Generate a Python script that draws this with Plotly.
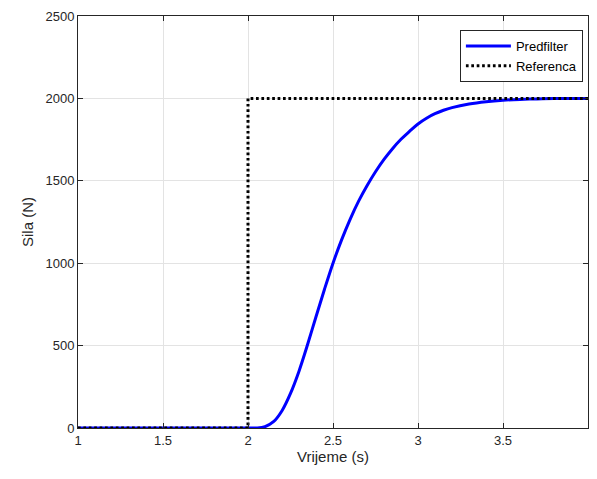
import plotly.graph_objects as go

# Predfilter response
t_pred = [1.0, 2.0, 2.05, 2.1, 2.15, 2.2, 2.25, 2.3, 2.35, 2.4, 2.45, 2.5, 2.55, 2.6,
          2.65, 2.7, 2.75, 2.8, 2.85, 2.9, 2.95, 3.0, 3.05, 3.1, 3.15, 3.2, 3.3, 3.4,
          3.5, 3.6, 3.7, 3.8, 4.0]
f_pred = [0, 0, 0, 8, 38, 105, 210, 345, 505, 675, 842, 1000, 1140, 1265,
          1375, 1470, 1555, 1630, 1695, 1752, 1800, 1845, 1880, 1907, 1928, 1944, 1966, 1980,
          1989, 1994, 1997, 1999, 2000]

# Reference step
t_ref = [1.0, 2.0, 2.0, 4.0]
f_ref = [0, 0, 2000, 2000]

x_ticks = [1, 1.5, 2, 2.5, 3, 3.5, 4]
x_tick_labels = ["1", "1.5", "2", "2.5", "3", "3.5", "4"]
y_ticks = [0, 500, 1000, 1500, 2000, 2500]
y_tick_labels = ["0", "500", "1000", "1500", "2000", "2500"]

fig = go.Figure()
fig.add_trace(go.Scatter(x=t_pred, y=f_pred, mode="lines", name="Predfilter",
                         line=dict(color="#0000ff", width=3, shape="spline", smoothing=1)))
fig.add_trace(go.Scatter(x=t_ref, y=f_ref, mode="lines", name="Referenca",
                         line=dict(color="#000000", width=3, dash="2.7px,2.7px")))

axis_common = dict(showgrid=True, gridcolor="#e3e3e3", gridwidth=1, automargin=False,
                   showline=True, linecolor="#262626", linewidth=1, mirror="ticks",
                   ticks="inside", ticklen=5, tickcolor="#262626", zeroline=False,
                   tickfont=dict(family="Liberation Sans, Arial", size=13, color="#262626"),
                   title_font=dict(family="Liberation Sans, Arial", size=15, color="#262626"))

fig.update_layout(
    width=581, height=463,
    margin=dict(l=70, r=1, t=8, b=42.5),
    paper_bgcolor="white", plot_bgcolor="white",
    showlegend=True,
    legend=dict(x=0.99, y=0.966, xanchor="right", yanchor="top",
                bgcolor="white", bordercolor="#262626", borderwidth=1,
                font=dict(family="Liberation Sans, Arial", size=13, color="#000000"),
                tracegroupgap=0, itemwidth=45),
    xaxis=dict(range=[1, 4], tickvals=x_ticks, ticktext=x_tick_labels,
               title=dict(text="Vrijeme (s)", standoff=4), **axis_common),
    yaxis=dict(range=[0, 2500], tickvals=y_ticks, ticktext=y_tick_labels,
               title=dict(text="Sila (N)", standoff=8), **axis_common),
)

fig.write_html("out.html")
